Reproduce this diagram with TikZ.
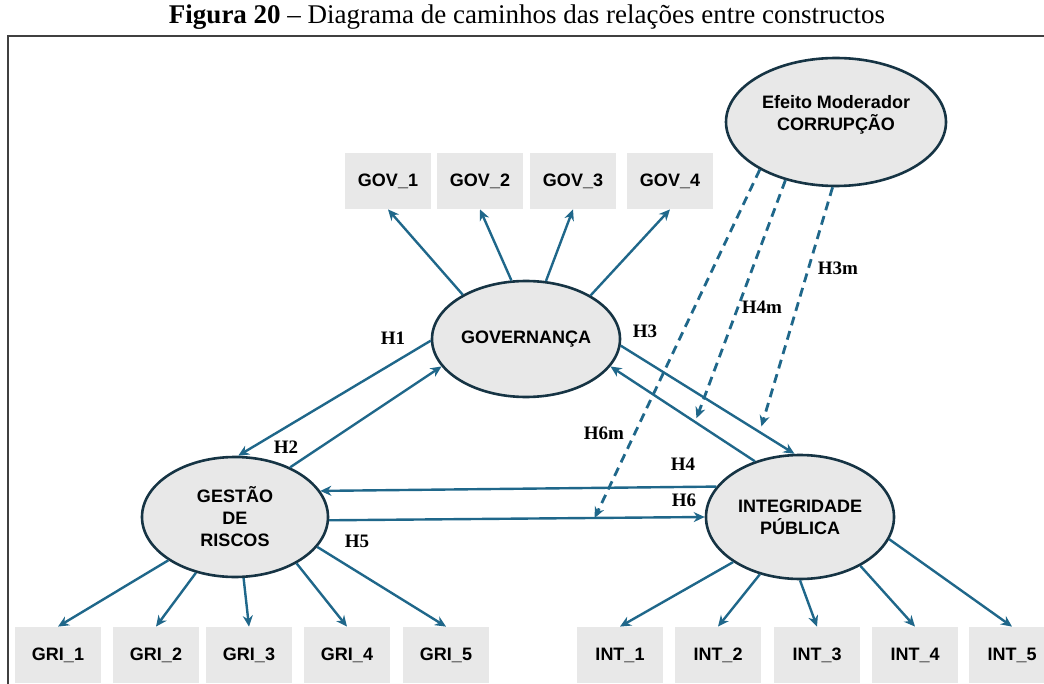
\documentclass[tikz,border=0pt]{standalone}
\usepackage{fontspec}
\setmainfont{Liberation Serif}
\setsansfont{Liberation Sans}
\usetikzlibrary{shapes.geometric, arrows.meta}
\definecolor{linkblue}{RGB}{31,103,138}
\definecolor{ovalline}{RGB}{22,52,68}
\definecolor{boxgray}{RGB}{232,232,232}

\begin{document}
\begin{tikzpicture}[
    x=0.5pt, y=-0.5pt,
    latent/.style={ellipse, draw=ovalline, fill=boxgray, line width=1.3pt, inner sep=0pt, align=center, font=\sffamily\bfseries\fontsize{9}{11}\selectfont},
    item/.style={rectangle, fill=boxgray, minimum width=43pt, minimum height=28pt, font=\sffamily\bfseries\fontsize{9}{11}\selectfont},
    arrow/.style={-{Stealth[length=5.5pt,width=5pt]}, line width=1.2pt, linkblue},
    modarrow/.style={arrow, dash pattern=on 4.5pt off 3pt, line width=1.4pt},
    hlabel/.style={font=\bfseries\fontsize{9.5}{11}\selectfont}
]
\useasboundingbox (0,0) rectangle (1044,684);

\node[font=\fontsize{13.5}{16}\selectfont] (title) at (527,17) {\textbf{Figura 20} -- Diagrama de caminhos das relações entre constructos};
\draw[black!75, line width=1pt] (8,684) -- (8,36) -- (1044,36);

\node[latent, minimum width=110pt, minimum height=64pt] (moder) at (836,122) {Efeito Moderador\\CORRUPÇÃO\\[-2pt]};
\node[latent, minimum width=94pt, minimum height=58pt] (gov) at (526,339) {GOVERNANÇA};
\node[latent, minimum width=93pt, minimum height=60pt] (ger) at (235,517) {GESTÃO\\DE\\RISCOS};
\node[latent, minimum width=94pt, minimum height=62pt] (int) at (800,517) {INTEGRIDADE\\PÚBLICA};

\foreach \i/\x in {1/388,2/480,3/573,4/670}
    \node[item] (gov\i) at (\x,181) {GOV\_\i};
\foreach \i/\x in {1/58,2/156,3/249,4/347,5/446}
    \node[item] (gri\i) at (\x,655) {GRI\_\i};
\foreach \i/\x in {1/620,2/718,3/817,4/915,5/1012}
    \node[item] (int\i) at (\x,655) {INT\_\i};

\foreach \i/\a in {1/145,2/104,3/71,4/34}
    \draw[arrow] (gov.\a) -- (gov\i.south);
\foreach \i/\a in {1/213,2/235,3/278,4/323,5/340}
    \draw[arrow] (ger.\a) -- (gri\i.north);
\foreach \i/\a in {1/214,2/235,3/270,4/321,5/346}
    \draw[arrow] (int.\a) -- (int\i.north);

\draw[arrow] (gov.181) -- (ger.87);
\draw[arrow] (ger.42) -- (gov.198);
\draw[arrow] (gov.356) -- coordinate[pos=0.8] (m3) (int.95);
\draw[arrow] (int.129) -- coordinate[pos=0.414] (m4) (gov.342);
\draw[arrow] (int.160) -- (ger.17);
\draw[arrow] (ger.358) -- coordinate[pos=0.707] (m6) (int.180);

\draw[modarrow] (moder.212) -- (m6);
\draw[modarrow, shorten >=2pt] (moder.229) -- (m4);
\draw[modarrow, shorten >=3pt] (moder.267) -- (m3);

\node[hlabel] (h1) at (393,338) {H1};
\node[hlabel] (h2) at (286,447) {H2};
\node[hlabel] (h3) at (645,331) {H3};
\node[hlabel] (h4) at (683,464) {H4};
\node[hlabel] (h6) at (684,500) {H6};
\node[hlabel] (h5) at (357,541) {H5};
\node[hlabel] (h6m) at (604,433) {H6m};
\node[hlabel] (h4m) at (762,307) {H4m};
\node[hlabel] (h3m) at (838,268) {H3m};

\end{tikzpicture}
\end{document}
